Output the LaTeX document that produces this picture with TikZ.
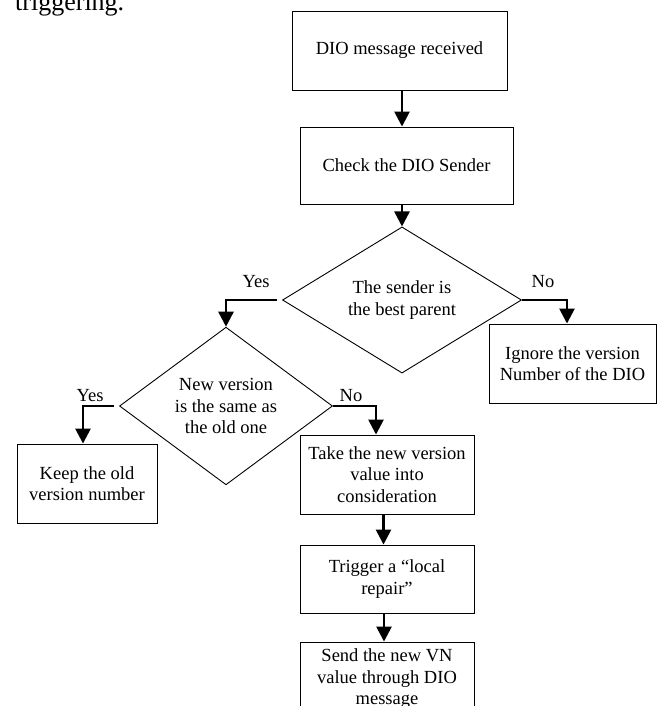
\documentclass[tikz,border=0pt]{standalone}
\usepackage{fontspec}
\setmainfont{Liberation Serif}
\usetikzlibrary{arrows.meta,shapes.geometric,calc}
\begin{document}
\begin{tikzpicture}[x=1pt,y=-1pt,
  every node/.style={font=\fontsize{18.5}{21.5}\selectfont, inner sep=0pt, align=center},
  box/.style={draw, line width=0.9pt},
  dec/.style={draw, diamond, line width=0.9pt, inner sep=0pt},
  arr/.style={line width=2.6pt, -{Triangle[length=15pt,width=15pt]}},
  lbl/.style={font=\fontsize{18.5}{21.5}\selectfont}
]
\useasboundingbox (0,0) rectangle (660,706);

\node[anchor=base west, font=\fontsize{26}{30}\selectfont] (top) at (15,11) {triggering.};

\node[box, minimum width=215pt, minimum height=79pt] (b1) at (399.5,50.5) {DIO message received};
\node[box, minimum width=213pt, minimum height=77pt] (b2) at (406.5,165.5) {Check the DIO Sender};
\node[dec, minimum width=239pt, minimum height=115pt] (d1) at (402,300) {The sender is\\the best parent};
\node[box, minimum width=167pt, minimum height=79pt] (ign) at (572.5,363.5) {Ignore the version\\Number of the DIO};
\node[dec, minimum width=213pt, minimum height=148pt] (d2) at (226,406) {New version\\is the same as\\the old one};
\node[box, minimum width=140pt, minimum height=79pt] (keep) at (87,483.5) {Keep the old\\version number};
\node[box, minimum width=174pt, minimum height=79pt] (take) at (387,474.5) {Take the new version\\value into\\consideration};
\node[box, minimum width=174pt, minimum height=68pt] (trig) at (387,579) {Trigger a ``local\\repair''};
\node[box, minimum width=174pt, minimum height=74pt] (send) at (387,679) {Send the new VN\\value through DIO\\message};

\node[lbl] (y1) at (256,282) {Yes};
\node[lbl] (n1) at (543,282) {No};
\node[lbl] (y2) at (90,396) {Yes};
\node[lbl] (n2) at (351,396) {No};

\draw[arr] (b1.south -| d1.north) -- (b2.north -| d1.north);
\draw[arr] (b2.south -| d1.north) -- (d1.north);
\draw[arr] ([xshift=-5pt]d1.west) -| (d2.north);
\draw[arr] (d1.east) -| ([xshift=-5.5pt]ign.north);
\draw[arr] ([xshift=-5pt]d2.west) -| ([xshift=-4pt]keep.north);
\draw[arr] (d2.east) -| ([xshift=-11pt]take.north);
\draw[arr] ([xshift=-3.5pt]take.south) -- ([xshift=-3.5pt]trig.north);
\draw[arr] ([xshift=-3pt]trig.south) -- ([xshift=-3pt]send.north);
\end{tikzpicture}
\end{document}
